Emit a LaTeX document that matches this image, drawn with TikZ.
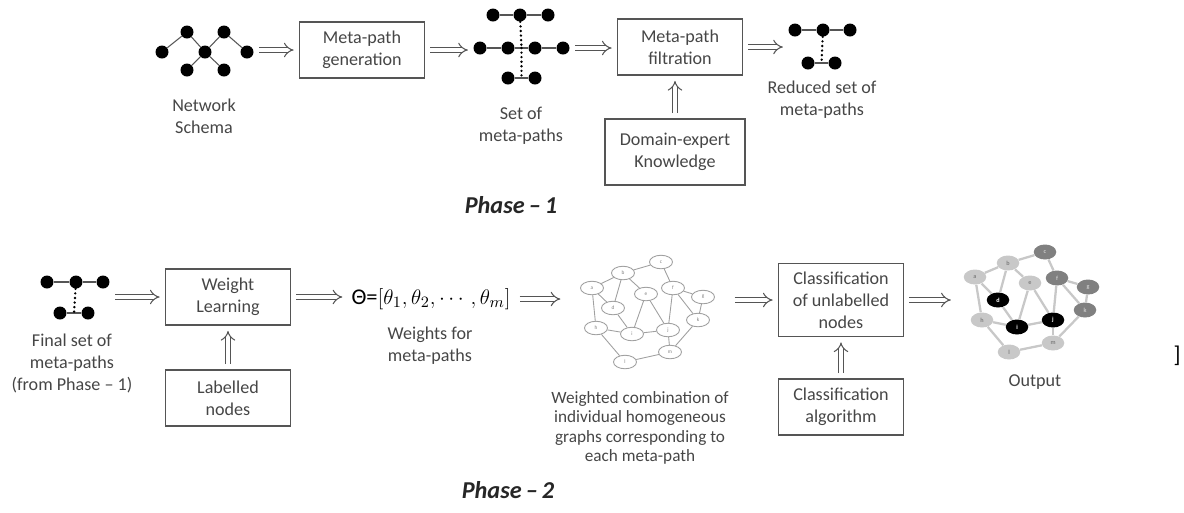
\documentclass[tikz,border=0pt]{standalone}
\usepackage{fontspec}
\setmainfont{Carlito}
\usepackage{amsmath}
\usepackage{tikz}
\usetikzlibrary{
  arrows.meta, positioning, shapes.geometric,
  fit, calc
}
\definecolor{inkgray}{RGB}{70, 70, 70}
\definecolor{linegray}{RGB}{85, 85, 85}
\definecolor{edgegray}{RGB}{160, 160, 160}
\definecolor{outlight}{RGB}{200, 200, 200}
\definecolor{outdark}{RGB}{128, 128, 128}

\tikzset{
  stage/.style={draw=linegray, line width=0.7pt, minimum width=2.5cm,
    minimum height=1.12cm, align=center, text=inkgray,
    font=\fontsize{10.3}{12.5}\selectfont},
  lbl/.style={align=center, text=inkgray, inner sep=0pt,
    font=\fontsize{10.3}{12.5}\selectfont},
  phase/.style={font=\fontsize{13.8}{15}\selectfont\bfseries\itshape,
    text=black!85},
  pdot/.style={circle, fill=black, inner sep=0pt, minimum size=0.26cm},
  pline/.style={draw=linegray, line width=0.6pt},
  pdots/.style={draw=black, line width=1.5pt, line cap=round,
    dash pattern=on 0pt off 2.6pt},
  imp/.style={draw=linegray, double=white, double distance=2.3pt,
    line width=0.6pt, -{Implies}, shorten <=3pt, shorten >=3pt},
  hnode/.style={ellipse, draw=edgegray, fill=white, line width=0.5pt,
    minimum width=0.46cm, minimum height=0.27cm, inner sep=0pt,
    text=gray, font=\fontsize{3}{3}\selectfont},
  hedge/.style={draw=edgegray, line width=0.5pt},
  onode/.style={ellipse, minimum width=0.45cm, minimum height=0.3cm,
    inner sep=0pt, font=\fontsize{3.5}{4}\selectfont\bfseries},
  oedge/.style={draw=outlight, line width=1.3pt}
}

\begin{document}
\begin{tikzpicture}[x=0.02cm, y=-0.02cm]
  \useasboundingbox (0,0) rectangle (1184,512);

  % Phase 1 -- network schema
  \node[pdot] (n1) at (162,52) {};
  \node[pdot] (n2) at (187,32) {};
  \node[pdot] (n3) at (205,52) {};
  \node[pdot] (n4) at (224,32) {};
  \node[pdot] (n5) at (247,52) {};
  \node[pdot] (n6) at (187,70) {};
  \node[pdot] (n7) at (224,70) {};
  \draw[pline] (n1) -- (n2) -- (n3) -- (n4) -- (n5);
  \draw[pline] (n6) -- (n3) -- (n7);
  \node[lbl] (schema) at (204,116) {Network\\Schema};

  \node[stage] (gen) at (362,50) {Meta-path\\generation};

  % set of meta-paths
  \node[pdot] (s1) at (493,15) {};
  \node[pdot] (s2) at (520,15) {};
  \node[pdot] (s3) at (548,15) {};
  \node[pdot] (s4) at (480,48) {};
  \node[pdot] (s5) at (508,48) {};
  \node[pdot] (s6) at (535,48) {};
  \node[pdot] (s7) at (563,48) {};
  \node[pdot] (s8) at (508,78) {};
  \node[pdot] (s9) at (535,78) {};
  \draw[pline] (s1) -- (s2) -- (s3);
  \draw[pline] (s4) -- (s5) -- (s6) -- (s7);
  \draw[pline] (s8) -- (s9);
  \draw[pdots] (s2) -- ($(s5)!0.5!(s6)$);
  \draw[pdots] ($(s5)!0.5!(s6)$) -- ($(s8)!0.5!(s9)$);
  \node[lbl] (setlbl) at (521,126) {Set of\\meta-paths};

  \node[stage] (filt) at (680,47) {Meta-path\\filtration};
  \node[stage, minimum width=2.8cm, minimum height=1.32cm] (domain)
    at (675,152) {Domain-expert\\Knowledge};

  % reduced set
  \node[pdot] (r1) at (795,30) {};
  \node[pdot] (r2) at (823,30) {};
  \node[pdot] (r3) at (850,30) {};
  \node[pdot] (r4) at (808,63) {};
  \node[pdot] (r5) at (835,63) {};
  \draw[pline] (r1) -- (r2) -- (r3);
  \draw[pline] (r4) -- (r5);
  \draw[pdots] (r2) -- ($(r4)!0.5!(r5)$);
  \node[lbl] (redlbl) at (822,100) {Reduced set of\\meta-paths};

  \draw[imp] (gen.west -| n5.east) -- (gen.west);
  \draw[imp] (gen.east) -- (gen.east -| s4.west);
  \draw[imp] (s7.east) -- (s7.east -| filt.west);
  \draw[imp] (filt.east) -- (filt.east -| r1.west);
  \draw[imp] (domain.north) -- (domain.north |- filt.south);

  \node[phase] (ph1) at (511,205) {Phase\,–\,1};

  % Phase 2 -- final set
  \node[pdot] (f1) at (47,282) {};
  \node[pdot] (f2) at (76,282) {};
  \node[pdot] (f3) at (103,282) {};
  \node[pdot] (f4) at (60,313) {};
  \node[pdot] (f5) at (88,313) {};
  \draw[pline] (f1) -- (f2) -- (f3);
  \draw[pline] (f4) -- (f5);
  \draw[pdots] (f2) -- ($(f4)!0.5!(f5)$);
  \node[lbl] (finlbl) at (72,363) {Final set of\\meta-paths\\(from Phase – 1)};

  \node[stage] (weight) at (228,297) {Weight\\Learning};
  \node[stage] (lab) at (228,398) {Labelled\\nodes};

  \node[inner sep=2pt, font=\fontsize{12.8}{15}\selectfont] (theta) at (431,299)
    {Θ=$[\theta_1,\theta_2,\cdots,\theta_m]$};
  \node[lbl] (wlbl) at (430,346) {Weights for\\meta-paths};

  % homogeneous graph
  \foreach \n/\px/\py in {a/592/288, b/623/273, c/661/262, d/613/308,
      e/646/294, f/673/288, g/703/297, h/596/328, i/632/334, j/668/330,
      k/698/320, l/625/362, m/670/352}
    \node[hnode] (h\n) at (\px,\py) {\n};
  \foreach \u/\v in {a/b, b/c, c/f, b/e, b/d, a/d, a/h, d/i, e/i, e/j,
      f/j, f/g, f/k, g/k, k/m, j/m, h/i, i/j, h/l, l/m}
    \draw[hedge] (h\u) -- (h\v);
  \node[fit=(ha)(hc)(hg)(hl), inner sep=8pt] (hom) {};
  \node[lbl, font=\fontsize{9.8}{11}\selectfont] (comb) at (640,428)
    {Weighted combination of\\individual homogeneous\\graphs corresponding to\\each meta-path};

  \node[stage, minimum height=1.46cm] (cls) at (841,300)
    {Classification\\of unlabelled\\nodes};
  \node[stage] (algo) at (841,407) {Classification\\algorithm};

  % output graph
  \foreach \n/\px/\py/\c/\t in {a/975/277/outlight/gray, b/1008/263/outlight/gray,
      c/1045/252/outdark/outlight, d/998/300/black/white, e/1030/283/outlight/gray,
      f/1057/278/outdark/outlight, g/1088/287/outdark/outlight, h/982/320/outlight/gray,
      i/1017/327/black/white, j/1053/320/black/white, k/1085/310/outdark/outlight,
      l/1009/352/outlight/gray, m/1053/343/outlight/gray}
    \node[onode, fill=\c, text=\t] (o\n) at (\px,\py) {\n};
  \foreach \u/\v in {a/b, b/c, c/f, b/e, b/d, a/d, a/h, d/i, e/i, e/j,
      f/j, f/g, f/k, g/k, k/m, j/m, h/i, i/j, h/l, l/m}
    \draw[oedge] (o\u) -- (o\v);
  \node[fit=(oa)(oc)(og)(ol), inner sep=4pt] (out) {};
  \node[lbl] (outlbl) at (1035,382) {Output};

  \draw[imp] (weight.west -| f3.east) -- (weight.west);
  \draw[imp] (lab.north) -- (weight.south);
  \draw[imp] (weight.east) -- (weight.east -| theta.west);
  \draw[imp] (theta.east) -- (theta.east -| hom.west);
  \draw[imp] (cls.west -| hom.east) -- (cls.west);
  \draw[imp] (algo.north) -- (cls.south);
  \draw[imp] (cls.east) -- (cls.east -| out.west);

  \node[phase] (ph2) at (508,490) {Phase\,–\,2};
  \node[font=\fontsize{13}{15}\selectfont] (brk) at (1177,356) {]};
\end{tikzpicture}
\end{document}
